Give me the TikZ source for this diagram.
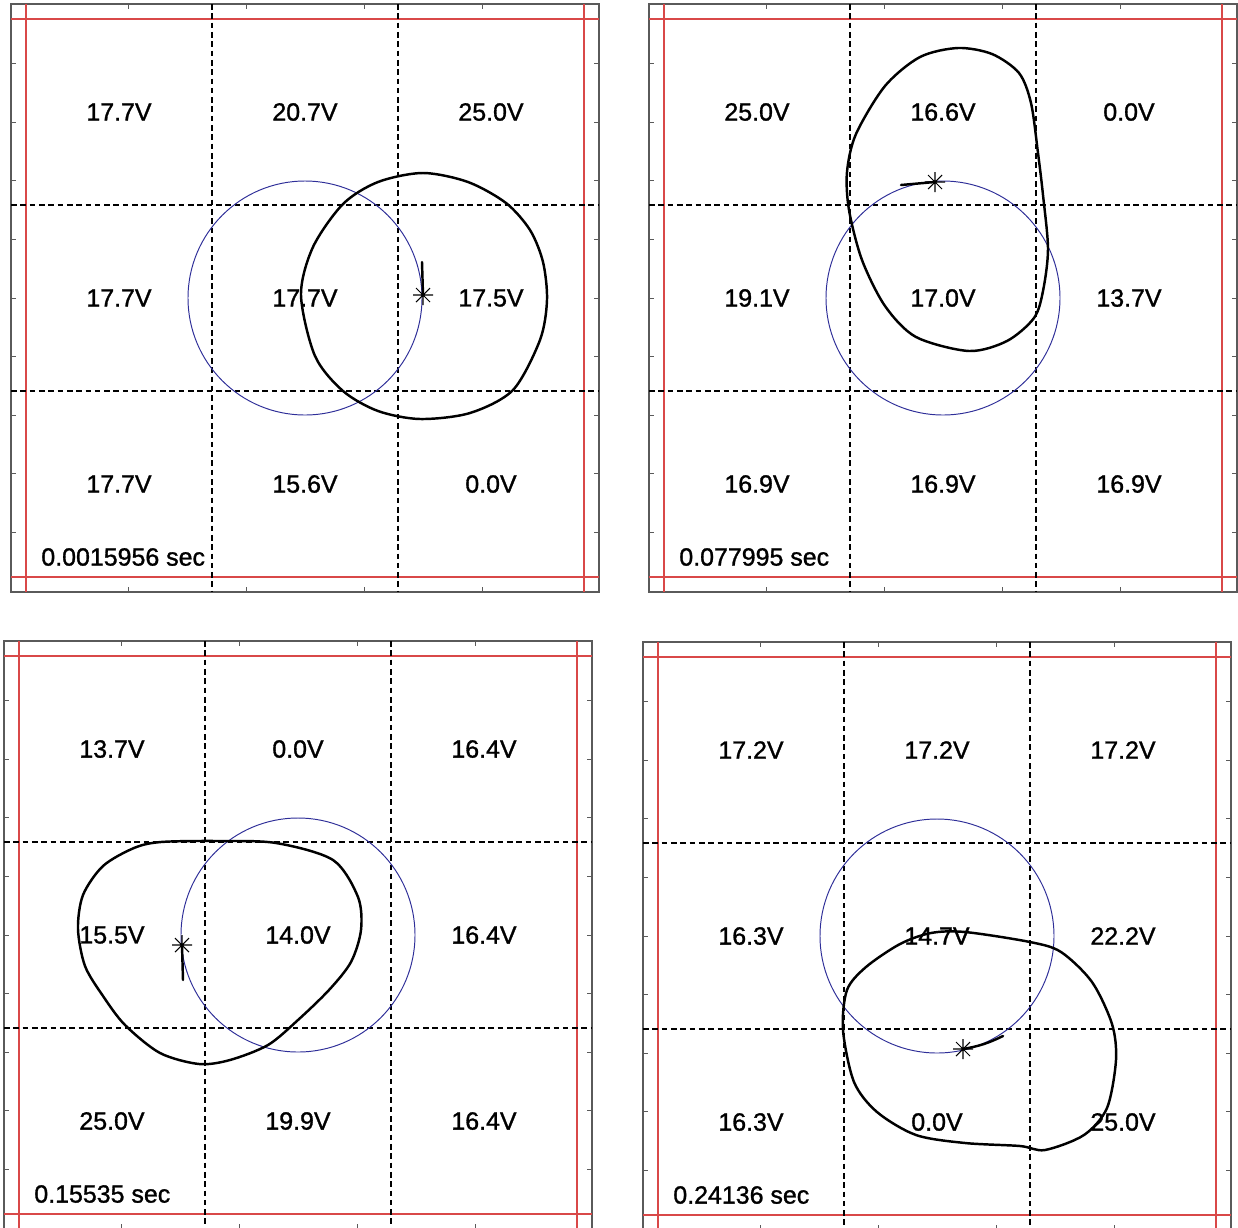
\documentclass[tikz,border=0pt]{standalone}
\usepackage{fontspec}
\setmainfont[FakeBold=1.2]{Liberation Sans}
\usepackage{tikz}
\definecolor{frm}{HTML}{5A5A5A}
\definecolor{lim}{HTML}{D94848}
\definecolor{ring}{HTML}{2E2E98}

\begin{document}
\begin{tikzpicture}[x=0.2mm,y=-0.2mm,
 fr/.style={draw=frm,line width=.7pt},tk/.style={draw=frm,line width=.5pt},
 rl/.style={draw=lim,line width=1.1pt},gd/.style={draw=black,line width=.75pt,dash pattern=on 3.2pt off 2.1pt},
 rc/.style={draw=ring,line width=.55pt},tr/.style={draw=black,line width=1.4pt,line join=round,line cap=round},
 mk/.style={draw=black,line width=.6pt},v/.style={font=\fontsize{14.2}{17}\selectfont,inner sep=0pt},ts/.style={v,anchor=west}]
\useasboundingbox (0,0) rectangle (1238,1228);
\foreach \p/\cx/\cy/\tm/\vals in {
 1/305/298/0.0015956/{17.7,20.7,25.0,17.7,17.7,17.5,17.7,15.6,0.0},
 2/943/298/0.077995/{25.0,16.6,0.0,19.1,17.0,13.7,16.9,16.9,16.9},
 3/298/935/0.15535/{13.7,0.0,16.4,15.5,14.0,16.4,25.0,19.9,16.4},
 4/937/936/0.24136/{17.2,17.2,17.2,16.3,14.7,22.2,16.3,0.0,25.0}}{
 \begin{scope}[shift={(\cx,\cy)}]
 \draw[fr] (-294,-294) rectangle (294,294);
 \foreach \t in {-177,-59,59,177} {\draw[tk] (\t,-294)--(\t,-289) (\t,294)--(\t,289);}
 \foreach \t in {-4,...,4} {\draw[tk] (-294,\t*58.6)--(-289,\t*58.6) (294,\t*58.6)--(289,\t*58.6);}
 \draw[rl] (-294,-279)--(294,-279) (-294,279)--(294,279) (-279,-294)--(-279,294) (279,-294)--(279,294);
 \draw[gd] (-294,-93)--(294,-93) (-294,93)--(294,93) (-93,-294)--(-93,294) (93,-294)--(93,294);
 \draw[rc] (0,0) circle[radius=117];
 \foreach \v [count=\i from 0] in \vals {\node[v] (v\p-\i) at ({mod(\i,3)*186-186},{int(\i/3)*186-186}) {\v V};}
 \node[ts] (t\p) at (-264,259) {\tm{} sec};
 \end{scope}}
\draw[tr] plot[smooth cycle] coordinates {(301,295) (313,247) (343,204) (378,182) (423,173) (468,182) (506,203) (530,230) (543,262) (547,300) (540,340) (513,390) (470,413) (420,419) (378,411) (343,391) (315,356)};
\draw[tr] plot[smooth cycle] coordinates {(958,48) (992,54) (1019,73) (1031,103) (1038,153) (1043,195) (1048,249) (1043,291) (1034,318) (1007,341) (969,351) (916,337) (885,306) (862,260) (849,210) (847,172) (856,134) (885,86) (920,57)};
\draw[tr] plot[smooth cycle] coordinates {(161,842) (218,841) (276,843) (333,860) (358,897) (361,930) (351,962) (329,990) (298,1020) (268,1045) (230,1060) (199,1064) (160,1053) (125,1025) (103,996) (85,966) (78,929) (83,895) (103,866) (134,848)};
\draw[tr] plot[smooth cycle] coordinates {(965,932) (1030,942) (1061,952) (1092,982) (1112,1024) (1116,1060) (1107,1108) (1084,1135) (1045,1150) (1020,1146) (965,1143) (916,1135) (877,1112) (854,1082) (843,1030) (847,990) (866,967) (900,944) (931,933)};
\coordinate (s1) at (423,295);\coordinate (e1) at (422,262);
\coordinate (s2) at (935,182);\coordinate (e2) at (901,185);
\coordinate (s3) at (182,945);\coordinate (e3) at (183,980);
\coordinate (s4) at (963,1049);\coordinate (e4) at (1003,1036);
\draw[tr] (s1)--(e1);\draw[tr] (s2)--(e2);\draw[tr] (s3)--(e3);\draw[tr] (s4) to[bend right=8] (e4);
\foreach \s in {s1,s2,s3,s4} {\draw[mk] (\s) +(-10,0)--+(10,0) +(0,-10)--+(0,10) +(-7,-7)--+(7,7) +(-7,7)--+(7,-7);}
\end{tikzpicture}
\end{document}
